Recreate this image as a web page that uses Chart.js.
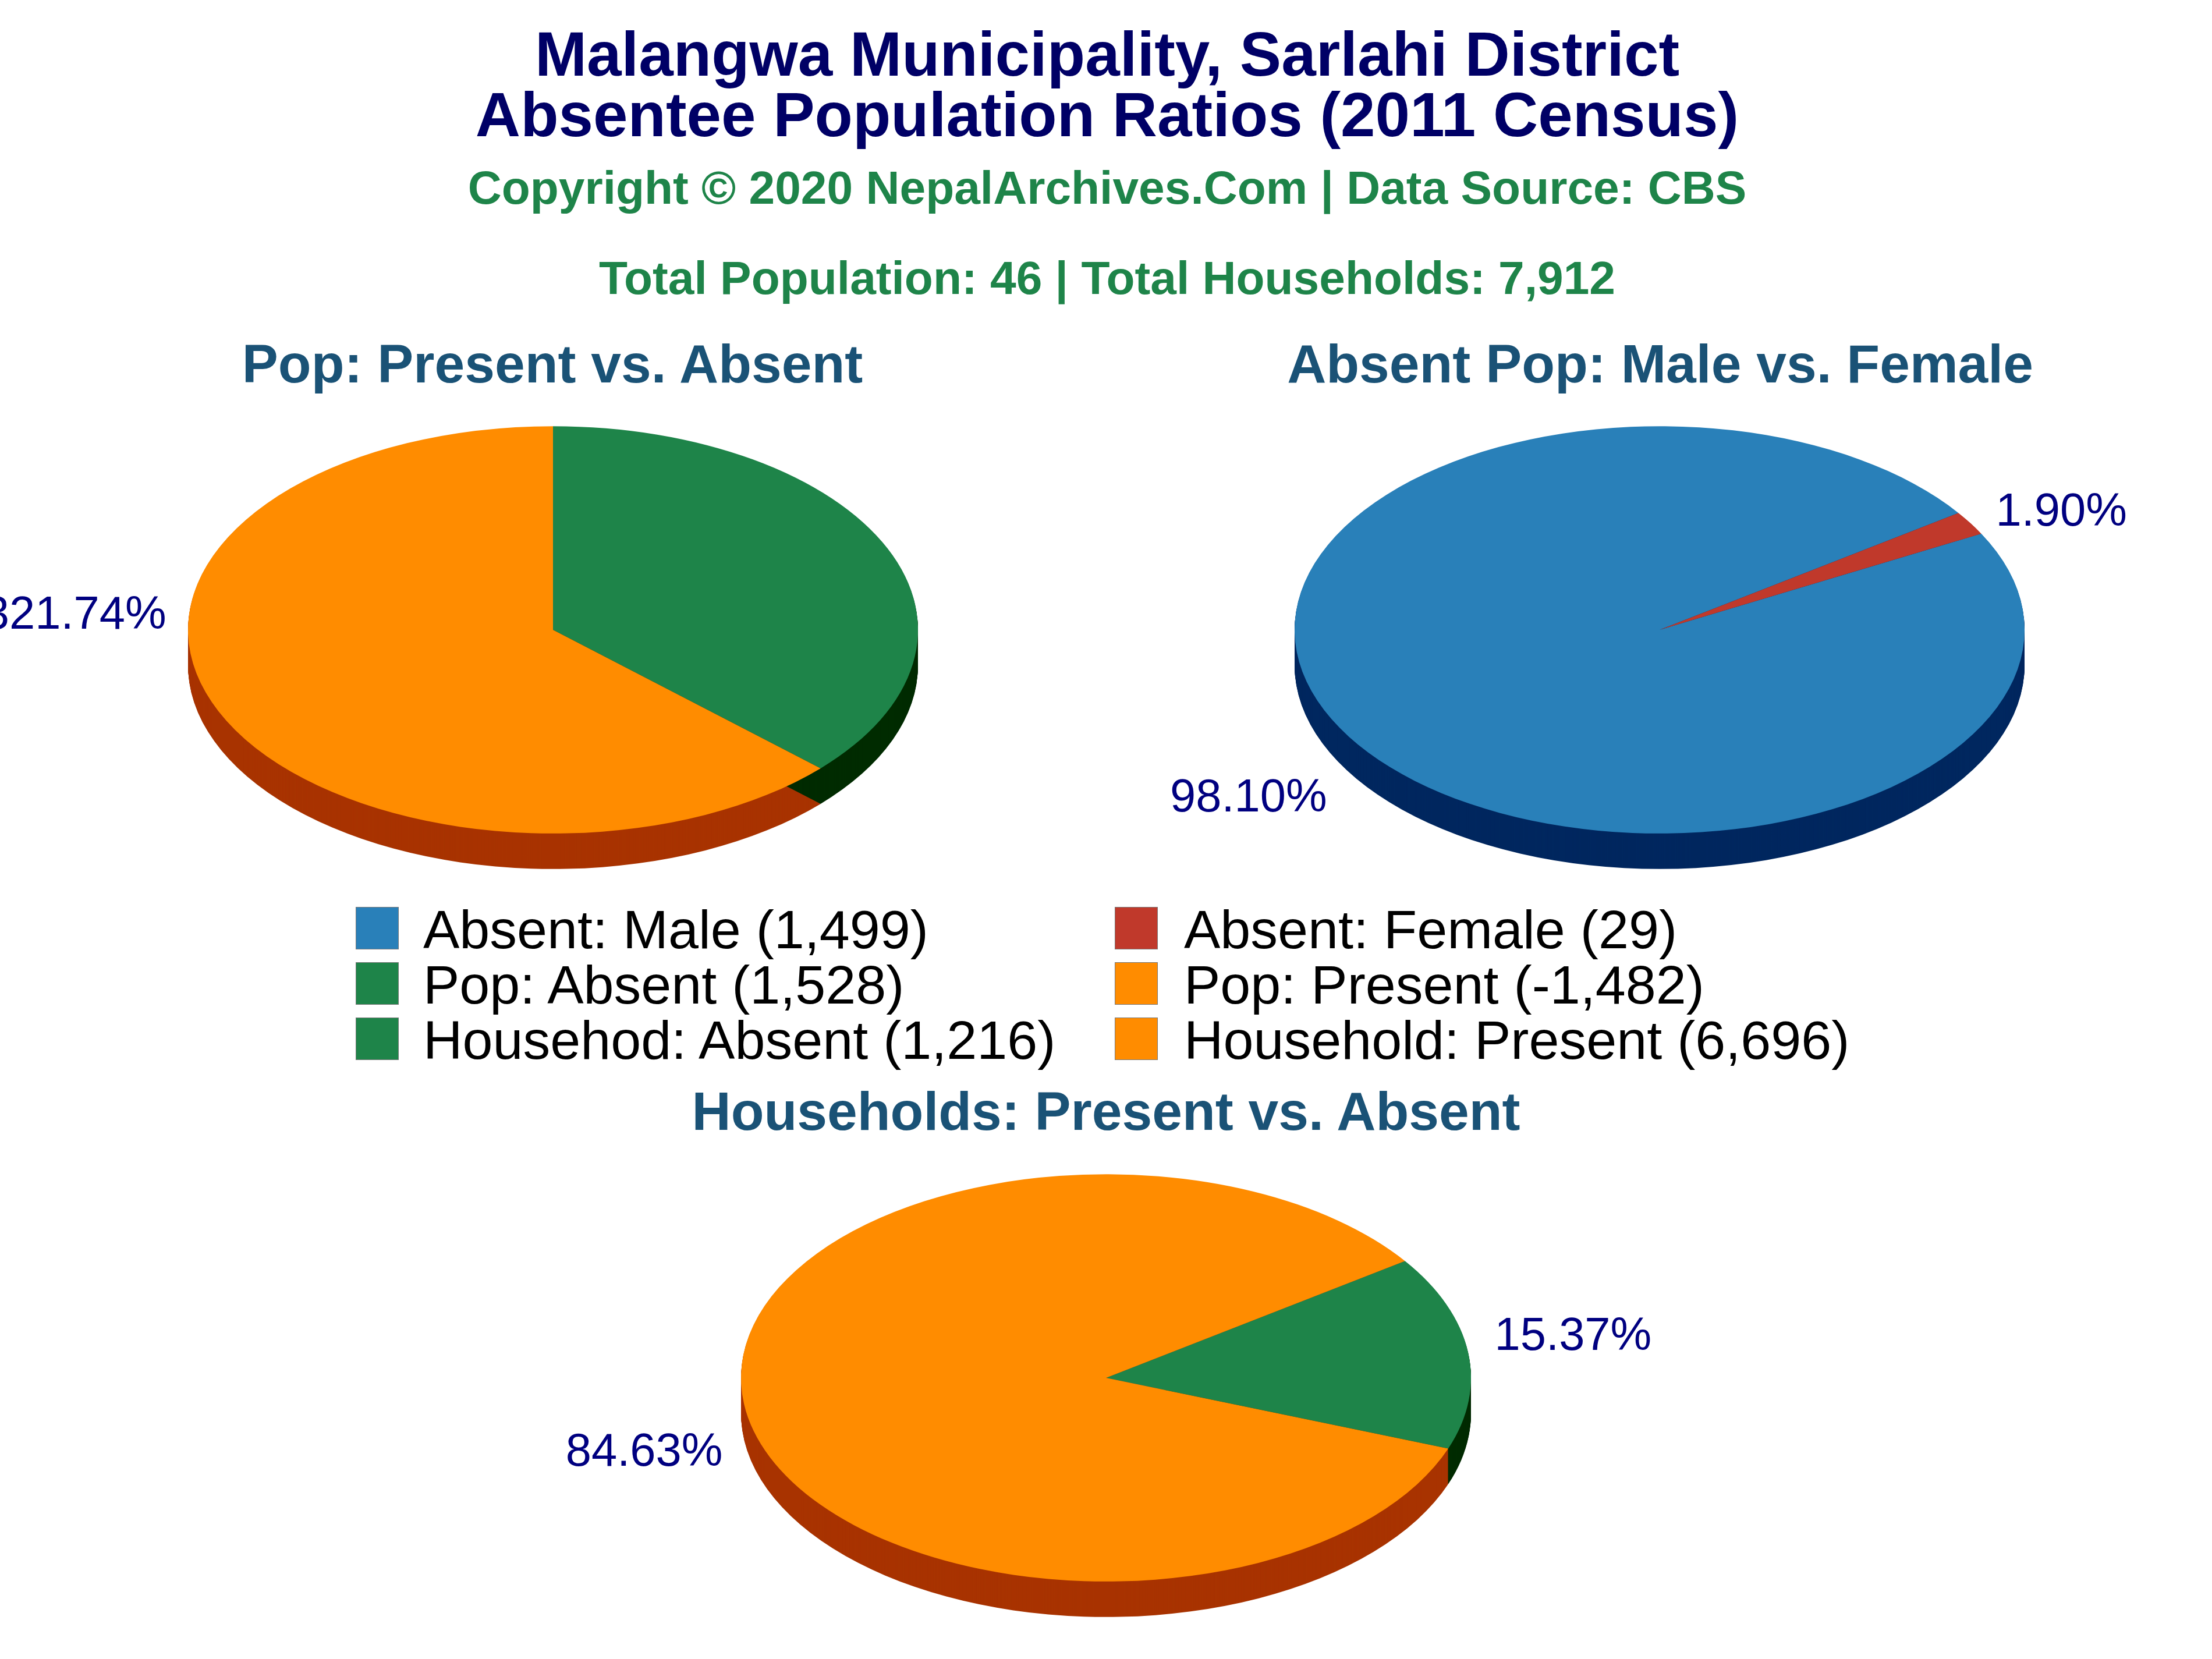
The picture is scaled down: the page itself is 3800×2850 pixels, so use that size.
<!DOCTYPE html>
<html>
<head>
<meta charset="utf-8">
<script src="https://cdn.jsdelivr.net/npm/chart.js@4/dist/chart.umd.min.js"></script>
<style>
html,body{margin:0;padding:0;background:#fff;width:3800px;height:2850px;overflow:hidden;font-family:"Liberation Sans",Arial,sans-serif}
.t{position:absolute;white-space:nowrap;transform:translate(-50%,-50%);font-weight:bold;line-height:1}
.main{font-size:107px;color:#000066}
.sub{font-size:80.3px;color:#1E8449}
.sec{font-size:93px;color:#1A5276}
canvas{position:absolute}
.sw{position:absolute;width:72px;height:71px;border:1px solid #777}
.lg{position:absolute;white-space:nowrap;font-size:93.5px;color:#000;line-height:1;transform:translateY(-50%)}
</style>
</head>
<body>
<div class="t main" style="left:1902px;top:93px">Malangwa Municipality, Sarlahi District</div>
<div class="t main" style="left:1902px;top:197px">Absentee Population Ratios (2011 Census)</div>
<div class="t sub" style="left:1902px;top:322px">Copyright © 2020 NepalArchives.Com | Data Source: CBS</div>
<div class="t sub" style="left:1902px;top:477px">Total Population: 46 | Total Households: 7,912</div>
<div class="t sec" style="left:949px;top:625px">Pop: Present vs. Absent</div>
<div class="t sec" style="left:2852px;top:625px">Absent Pop: Male vs. Female</div>
<div class="t sec" style="left:1900px;top:1909px">Households: Present vs. Absent</div>

<canvas id="popChart" style="left:0;top:455px"></canvas>
<canvas id="absentChart" style="left:1902px;top:455px"></canvas>
<canvas id="houseChart" style="left:800px;top:1740px"></canvas>
<div id="legend"></div>

<script>
// slice sizes
const popShares = [36.9, 63.1]
const popLabels = ["3321.74%", ""]
const absentValues = [1499, 29]
const absentLabels = ["98.10%", "1.90%"]
const houseValues = [1216, 6696]
const houseLabels = ["15.37%", "84.63%"]

const legendNames = [
"Absent: Male (1,499)", "Absent: Female (29)",
"Pop: Absent (1,528)", "Pop: Present (-1,482)",
"Househod: Absent (1,216)", "Household: Present (6,696)"
]
const legendColors = ["#2980B9","#C0392B","#1E8449","#FF8C00","#1E8449","#FF8C00"]

const squash = 0.558
const depth = 61

const pie3d = {
id:"pie3d",
beforeDatasetsDraw(chart,args,opts){
const ctx = chart.ctx
const arcs = chart.getDatasetMeta(0).data
opts.sideOrder.forEach(i=>{
const a = arcs[i]
ctx.fillStyle = opts.sideColors[i]
for(let d=depth;d>=1;d--){
ctx.save()
ctx.translate(a.x,a.y+d)
ctx.scale(1,squash)
ctx.beginPath()
ctx.moveTo(0,0)
ctx.arc(0,0,a.outerRadius,a.startAngle,a.endAngle)
ctx.closePath()
ctx.fill()
ctx.restore()
}
})
const c = arcs[0]
ctx.save()
ctx.translate(c.x,c.y)
ctx.scale(1,squash)
ctx.translate(-c.x,-c.y)
},
afterDatasetsDraw(chart,args,opts){
const ctx = chart.ctx
ctx.restore()
const arcs = chart.getDatasetMeta(0).data
ctx.save()
ctx.font = "79.5px 'Liberation Sans'"
ctx.fillStyle = "#000080"
ctx.textAlign = "center"
ctx.textBaseline = "middle"
opts.texts.forEach((txt,i)=>{
if(!txt) return
const a = arcs[i]
// angle measured from 12 o'clock
const ang = opts.labelAngle!=null ? opts.labelAngle*Math.PI/180 : (a.startAngle+a.endAngle)/2+Math.PI/2
const x = a.x+Math.sin(ang)*a.outerRadius*opts.reach
let y = a.y-Math.cos(ang)*a.outerRadius*squash*opts.reach
if(Math.cos(ang)<0) y += depth
ctx.fillText(txt,x+opts.nudge[i][0],y+opts.nudge[i][1])
})
ctx.restore()
}
}

function makePie(id,w,data,colors,rotation,extra){
const el = document.getElementById(id)
el.width = w
el.height = 1254
return new Chart(el,{
type:"pie",
plugins:[pie3d],
data:{
datasets:[{
data,
backgroundColor:colors,
borderWidth:0,
hoverOffset:0
}]
},
options:{
responsive:false,
animation:false,
devicePixelRatio:1,
events:[],
rotation,
layout:{padding:0},
plugins:{
legend:{display:false},
tooltip:{enabled:false},
pie3d:extra
}
}
})
}

makePie("popChart",1900,popShares,["#1E8449","#FF8C00"],0,{
sideOrder:[1,0],sideColors:["#002B00","#A83300"],texts:popLabels,labelAngle:273.8,reach:1.348,nudge:[[0,7],[0,0]]
})
makePie("absentChart",1898,absentValues,["#2980B9","#C0392B"],61.8,{
sideOrder:[1,0],sideColors:["#00275F","#8A1500"],texts:absentLabels,reach:1.3,nudge:[[-12,-9],[-4,38]]
})
makePie("houseChart",2200,houseValues,["#1E8449","#FF8C00"],55,{
sideOrder:[0,1],sideColors:["#002B00","#A83300"],texts:houseLabels,reach:1.3,nudge:[[-6,-12],[15,10]]
})

const legendBox = document.getElementById("legend")
const rowY = [1594,1689,1784]
const swatchX = [611,1915]
const textX = [727,2034]
legendNames.forEach((name,i)=>{
const col = i%2
const row = Math.floor(i/2)
const sw = document.createElement("div")
sw.className = "sw"
sw.style.left = swatchX[col]+"px"
sw.style.top = (rowY[row]-36)+"px"
sw.style.background = legendColors[i]
legendBox.appendChild(sw)
const tx = document.createElement("div")
tx.className = "lg"
tx.style.left = textX[col]+"px"
tx.style.top = (rowY[row]+3)+"px"
tx.textContent = name
legendBox.appendChild(tx)
})
</script>
</body>
</html>
